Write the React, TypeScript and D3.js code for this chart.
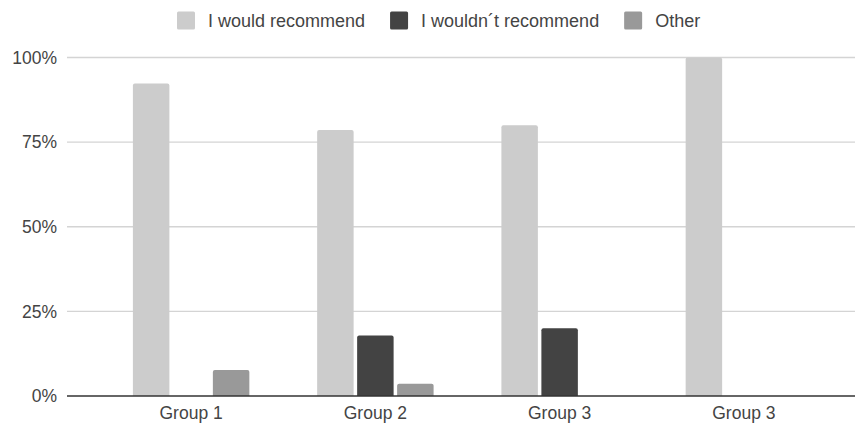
import React, { useMemo } from "react";
import * as d3 from "d3";

const categories = ["Group 1", "Group 2", "Group 3", "Group 3"];
const seriesNames = ["I would recommend", "I wouldn\u00b4t recommend", "Other"];
const wouldRecommend = [0.923, 0.786, 0.8, 1.0];
const wouldntRecommend = [0, 0.179, 0.2, 0];
const other = [0.077, 0.036, 0, 0];
const yTicks = [0, 0.25, 0.5, 0.75, 1];
const colors = ["#cccccc", "#434343", "#999999"];

const W = 855;
const H = 423;
const FONT = "'Liberation Sans', Arial, sans-serif";

function topRoundedRect(x: number, y: number, w: number, h: number, r: number) {
  if (h <= 0) return "";
  const rr = Math.min(r, h, w / 2);
  return `M${x},${y + h}V${y + rr}Q${x},${y} ${x + rr},${y}H${x + w - rr}Q${x + w},${y} ${x + w},${y + rr}V${y + h}Z`;
}

export default function App() {
  const series = [wouldRecommend, wouldntRecommend, other];
  const x0 = d3
    .scaleBand<number>()
    .domain(categories.map((_, i) => i))
    .range([99, 836])
    .paddingInner(0.368)
    .paddingOuter(0.184);
  const x1 = d3
    .scaleBand<number>()
    .domain(seriesNames.map((_, i) => i))
    .range([0, x0.bandwidth()])
    .paddingInner(0.0875)
    .paddingOuter(0);
  const y = d3.scaleLinear().domain([0, 1]).range([396, 57.5]);
  const fmt = d3.format(".0%");

  const legendLayout = useMemo(() => {
    const canvas = document.createElement("canvas");
    const ctx = canvas.getContext("2d")!;
    ctx.font = `18px ${FONT}`;
    let xPos = 177;
    return seriesNames.map((name) => {
      const w = ctx.measureText(name).width;
      const item = { x: xPos, w };
      xPos += 18 + 13 + w + 25;
      return item;
    });
  }, []);

  return (
    <svg width={W} height={H} style={{ display: "block", position: "absolute", left: 0, top: 0, background: "#fff" }}>
      <rect x={0} y={0} width={W} height={H} fill="#fff" />
      {/* gridlines */}
      {yTicks.map((t) =>
        t === 0 ? null : (
          <line key={t} x1={67} x2={855} y1={y(t)} y2={y(t)} stroke="#d4d4d4" strokeWidth={1.3} />
        )
      )}
      {/* y labels */}
      {yTicks.map((t) => (
        <text
          key={"l" + t}
          x={57}
          y={y(t)}
          dy="0.36em"
          textAnchor="end"
          fontFamily={FONT}
          fontSize={17.5}
          fill="#444"
        >
          {fmt(t)}
        </text>
      ))}
      {/* bars */}
      {categories.map((_, ci) => (
        <g key={"g" + ci} transform={`translate(${x0(ci)},0)`}>
          {series.map((vals, si) => {
            const v = vals[ci];
            if (!v) return null;
            return (
              <path
                key={si}
                d={topRoundedRect(x1(si)!, y(v), x1.bandwidth(), y(0) - y(v), 2)}
                fill={colors[si]}
              />
            );
          })}
        </g>
      ))}
      {/* baseline */}
      <line x1={67} x2={855} y1={y(0)} y2={y(0)} stroke="#333" strokeWidth={1.5} />
      {/* x labels */}
      {categories.map((c, ci) => (
        <text
          key={"x" + ci}
          x={x0(ci)! + x0.bandwidth() / 2}
          y={419}
          textAnchor="middle"
          fontFamily={FONT}
          fontSize={17.5}
          fill="#444"
        >
          {c}
        </text>
      ))}
      {/* legend */}
      {seriesNames.map((name, i) => (
        <g key={"lg" + i}>
          <rect x={legendLayout[i].x} y={11.5} width={18} height={18} rx={1.5} fill={colors[i]} />
          <text x={legendLayout[i].x + 31} y={27} fontFamily={FONT} fontSize={18} fill="#444">
            {name}
          </text>
        </g>
      ))}
    </svg>
  );
}
